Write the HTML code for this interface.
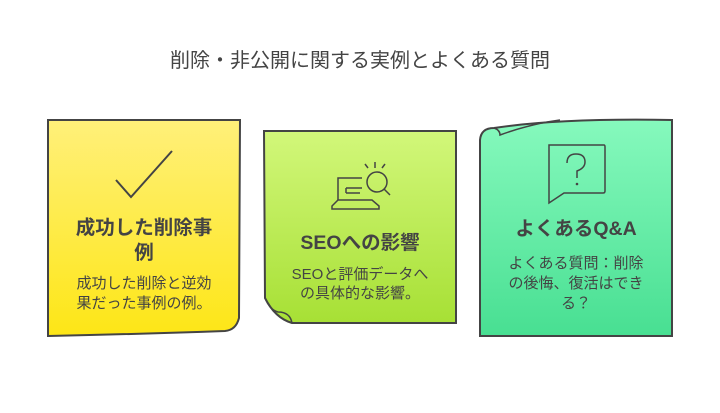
<!DOCTYPE html>
<html><head><meta charset="utf-8"><style>
body{margin:0;background:#fff;width:720px;height:408px;overflow:hidden}
svg text{font-family:"Liberation Sans","Noto Sans CJK JP",sans-serif;fill:#444}
</style></head><body>
<svg width="720" height="408" viewBox="0 0 720 408" xmlns="http://www.w3.org/2000/svg">
<defs>
<linearGradient id="g1" x1="0" y1="0" x2="0" y2="1"><stop offset="0" stop-color="#fff07a"/><stop offset="1" stop-color="#fde616"/></linearGradient>
<linearGradient id="g2" x1="0" y1="0" x2="0" y2="1"><stop offset="0" stop-color="#d2f77a"/><stop offset="1" stop-color="#a7e035"/></linearGradient>
<linearGradient id="g3" x1="0" y1="0" x2="0" y2="1"><stop offset="0" stop-color="#86f9bd"/><stop offset="1" stop-color="#48df92"/></linearGradient>
</defs>
<text x="360" y="67" font-size="20" text-anchor="middle">削除・非公開に関する実例とよくある質問</text>

<path d="M48 120 L240 120 L239 318 Q236 330 225 331 Q140 334 48 336 Z" fill="url(#g1)" stroke="#444" stroke-width="2"/>
<path d="M116 180 L131 197 L172 151" fill="none" stroke="#444" stroke-width="2"/>
<text x="144" y="234" font-size="19.5" font-weight="bold" text-anchor="middle">成功した削除事</text>
<text x="144" y="259" font-size="19.5" font-weight="bold" text-anchor="middle">例</text>
<text x="144" y="288" font-size="15" text-anchor="middle">成功した削除と逆効</text>
<text x="144" y="308" font-size="15" text-anchor="middle">果だった事例の例。</text>

<path d="M264 131 L456 131 L456 323 L292 323 Q275 318 265 298 Z" fill="url(#g2)" stroke="#444" stroke-width="2"/>
<path d="M265 298 Q270 310 278 312 Q290 312 292 323" fill="none" stroke="#444" stroke-width="1.5"/>
<g fill="none" stroke="#444" stroke-width="1.5">
<path d="M338 200 L338 178 L362 178"/><path d="M346 188 L362 188 M346 193 L360 193 M346 188 L346 193"/>
<path d="M332 206 L338 200 L372 200 L379 206 L379 209 L332 209 Z"/>
<circle cx="377" cy="182" r="10"/><path d="M384 189 L390 195"/>
<path d="M375 162 L375 168 M365 164 L368 168 M385 164 L382 168"/>
</g>
<text x="360" y="249" font-size="19.5" font-weight="bold" text-anchor="middle">SEOへの影響</text>
<text x="360" y="279" font-size="15" text-anchor="middle">SEOと評価データへ</text>
<text x="360" y="298" font-size="15" text-anchor="middle">の具体的な影響。</text>

<path d="M480 336 L480 140 Q481 128 494 128 Q560 118 672 120 L672 336 Z" fill="url(#g3)" stroke="#444" stroke-width="2"/>
<path d="M494 128 Q500 130 500 135 Q530 124 560 120" fill="none" stroke="#444" stroke-width="1.5"/>
<g fill="none" stroke="#444" stroke-width="1.5">
<path d="M549 145 L604 145 Q605 145 605 147 L605 191 Q605 193 603 193 L564 193 L549 203 Z"/>
<path d="M567 163 Q567 154 576 154 Q585 154 585 162 Q585 168 577 171 L577 178"/>
</g>
<circle cx="577" cy="184" r="1.3" fill="#444"/>
<text x="576" y="235" font-size="19.5" font-weight="bold" text-anchor="middle">よくあるQ&amp;A</text>
<text x="576" y="268" font-size="15" text-anchor="middle">よくある質問：削除</text>
<text x="576" y="288" font-size="15" text-anchor="middle">の後悔、復活はでき</text>
<text x="576" y="308" font-size="15" text-anchor="middle">る？</text>
</svg>
</body></html>
